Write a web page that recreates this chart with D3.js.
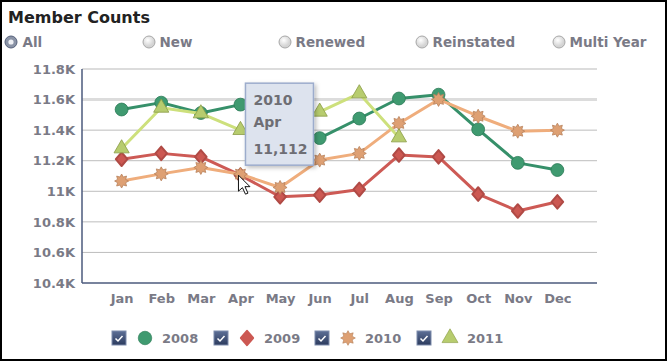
<!DOCTYPE html>
<html>
<head>
<meta charset="utf-8">
<script src="https://cdn.jsdelivr.net/npm/d3@7"></script>
<style>
  body { margin: 0; background: #fff; }
  svg { display: block; font-family: "DejaVu Sans", Verdana, sans-serif; }
</style>
</head>
<body>
<div id="chart"></div>
<script>
var svgWidth = 668;
var svgHeight = 362;

// chart data
var months = ["Jan", "Feb", "Mar", "Apr", "May", "Jun", "Jul", "Aug", "Sep", "Oct", "Nov", "Dec"];
var years = ["2008", "2009", "2010", "2011"];
var counts2008 = [11535, 11580, 11512, 11567, 11462, 11348, 11476, 11607, 11632, 11405, 11186, 11139];
var counts2009 = [11210, 11248, 11225, 11105, 10964, 10975, 11012, 11237, 11225, 10982, 10871, 10931];
var counts2010 = [11067, 11114, 11156, 11112, 11025, 11204, 11248, 11444, 11601, 11491, 11393, 11400];
var counts2011 = [11280, 11546, 11509, 11400, 11460, 11520, 11640, 11352];
var yTicks = [10400, 10600, 10800, 11000, 11200, 11400, 11600, 11800];
var filters = ["All", "New", "Renewed", "Reinstated", "Multi Year"];

var margin = { top: 69, right: 71, bottom: 79, left: 82 };
var width = svgWidth - margin.left - margin.right;
var height = svgHeight - margin.top - margin.bottom;

var svg = d3.select("#chart")
  .append("svg")
  .attr("width", svgWidth)
  .attr("height", svgHeight);

var defs = svg.append("defs");
var radioGrad = defs.append("radialGradient").attr("id", "radioGrad").attr("cx", "40%").attr("cy", "35%");
radioGrad.append("stop").attr("offset", "0%").attr("stop-color", "#ffffff");
radioGrad.append("stop").attr("offset", "100%").attr("stop-color", "#d4d4d4");
var boxGrad = defs.append("linearGradient").attr("id", "boxGrad").attr("x1", 0).attr("y1", 0).attr("x2", 0).attr("y2", 1);
boxGrad.append("stop").attr("offset", "0%").attr("stop-color", "#5d6f96");
boxGrad.append("stop").attr("offset", "100%").attr("stop-color", "#2c3b5e");
var shadow = defs.append("filter").attr("id", "shadow").attr("x", "-20%").attr("y", "-20%").attr("width", "150%").attr("height", "150%");
shadow.append("feDropShadow").attr("dx", 2).attr("dy", 2).attr("stdDeviation", 2).attr("flood-color", "#000").attr("flood-opacity", 0.25);

// title and filter radios
svg.append("text")
  .attr("x", 8).attr("y", 23)
  .attr("font-size", "16px").attr("font-weight", "bold")
  .attr("fill", "#222")
  .text("Member Counts");

var radioX = [11, 149, 285, 422, 559];
var radios = svg.selectAll(".radio")
  .data(filters)
  .enter()
  .append("g")
  .attr("class", "radio")
  .attr("transform", (d, i) => `translate(${radioX[i]}, 42)`);

radios.append("circle")
  .attr("r", 6)
  .attr("fill", (d, i) => i === 0 ? "#8a93a6" : "url(#radioGrad)")
  .attr("stroke", (d, i) => i === 0 ? "#55607a" : "#a8a8a8")
  .attr("stroke-width", 1);

radios.filter((d, i) => i === 0).append("circle")
  .attr("r", 2.6)
  .attr("fill", "#eef0f4");

radios.append("text")
  .attr("x", (d, i) => i === 0 ? 11.5 : 10.5).attr("y", 5)
  .attr("font-size", "13.5px").attr("font-weight", "bold")
  .attr("fill", "#7a7a86")
  .text(d => d);

var chartGroup = svg.append("g")
  .attr("transform", `translate(${margin.left}, ${margin.top})`);

// scales
var xScale = d3.scalePoint()
  .domain(months)
  .range([0, width])
  .padding(1);

var yScale = d3.scaleLinear()
  .domain([10400, 11800])
  .range([height, 0]);

// gridlines
chartGroup.selectAll(".grid")
  .data(yTicks.slice(1))
  .enter()
  .append("line")
  .attr("x1", 0).attr("x2", width)
  .attr("y1", d => yScale(d)).attr("y2", d => yScale(d))
  .attr("stroke", d => d === 11600 || d === 11800 ? "#dcdcdc" : "#bdbdbd")
  .attr("stroke-width", d => d === 11600 ? 3 : (d === 11800 ? 2 : 1));

// axes
var leftAxis = d3.axisLeft(yScale)
  .tickValues(yTicks)
  .tickSize(0)
  .tickPadding(7)
  .tickFormat(d => d3.format(".3~s")(d).replace("k", "K"));

var bottomAxis = d3.axisBottom(xScale)
  .tickSize(0)
  .tickPadding(11);

var yAxisG = chartGroup.append("g").call(leftAxis);
var xAxisG = chartGroup.append("g")
  .attr("transform", `translate(0, ${height})`)
  .call(bottomAxis);

[yAxisG, xAxisG].forEach(g => {
  g.select(".domain").attr("stroke", "#4b5a7c").attr("stroke-width", 1.5);
  g.selectAll("text")
    .attr("font-family", "DejaVu Sans, Verdana, sans-serif")
    .attr("font-size", "13px")
    .attr("font-weight", "bold")
    .attr("fill", "#7a7a86");
});
xAxisG.select(".domain").attr("d", `M0,0H${width}`);
yAxisG.select(".domain").attr("d", `M0,${height}V0`);

// series
function starPath(size) {
  var pts = [];
  for (var k = 0; k < 16; k++) {
    var r = k % 2 === 0 ? size : size * 0.62;
    var a = k * Math.PI / 8 - Math.PI / 2;
    pts.push([r * Math.cos(a), r * Math.sin(a)]);
  }
  return "M" + pts.map(p => p[0].toFixed(2) + "," + p[1].toFixed(2)).join("L") + "Z";
}

function diamondPath(w, h) {
  return `M0,${-h}Q${w * 0.15},${-h * 0.15} ${w},0Q${w * 0.15},${h * 0.15} 0,${h}` +
    `Q${-w * 0.15},${h * 0.15} ${-w},0Q${-w * 0.15},${-h * 0.15} 0,${-h}Z`;
}

function roundDiamond(w, h) {
  return `M0,${-h}L${w},0L0,${h}L${-w},0Z`;
}

var series = [
  { year: "2008", values: counts2008, line: "#36906a", fill: "#3f9a70", stroke: "#2a7a55", shape: d3.symbol().type(d3.symbolCircle).size(130)() },
  { year: "2009", values: counts2009, line: "#cd5a55", fill: "#cc5852", stroke: "#b04a45", shape: roundDiamond(5.8, 6.8) },
  { year: "2010", values: counts2010, line: "#efad7c", fill: "#dea073", stroke: "#b8825c", shape: starPath(7) },
  { year: "2011", values: counts2011, line: "#cde07c", fill: "#b7cc6e", stroke: "#8a9c45", shape: d3.symbol().type(d3.symbolTriangle).size(100)() }
];

var line = d3.line()
  .x((d, i) => xScale(months[i]))
  .y(d => yScale(d));

series.forEach(s => {
  var g = chartGroup.append("g");
  g.append("path")
    .datum(s.values)
    .attr("d", line)
    .attr("fill", "none")
    .attr("stroke", s.line)
    .attr("stroke-width", 3)
    .attr("stroke-linejoin", "round");
  g.selectAll("path.marker")
    .data(s.values)
    .enter()
    .append("path")
    .attr("class", "marker")
    .attr("d", s.shape)
    .attr("transform", (d, i) => `translate(${xScale(months[i])}, ${yScale(d)})`)
    .attr("fill", s.fill)
    .attr("stroke", s.stroke)
    .attr("stroke-width", s.year === "2009" ? 2 : 0.8)
    .attr("stroke-linejoin", "round");
});

// tooltip for 2010 Apr
var tipIndex = 3;
var tipX = xScale(months[tipIndex]) + 5;
var tipY = yScale(counts2010[tipIndex]) - 91;
var tip = chartGroup.append("g")
  .attr("transform", `translate(${tipX}, ${tipY})`);
tip.append("rect")
  .attr("width", 68).attr("height", 82)
  .attr("fill", "#dde3ee")
  .attr("stroke", "#9caccc")
  .attr("stroke-width", 1.5)
  .attr("filter", "url(#shadow)");
tip.selectAll("text")
  .data(["2010", months[tipIndex], d3.format(",")(counts2010[tipIndex])])
  .enter()
  .append("text")
  .attr("x", 8)
  .attr("y", (d, i) => [22, 44, 71][i])
  .attr("font-size", "14px")
  .attr("font-weight", "bold")
  .attr("fill", "#6e6e74")
  .text(d => d);

// mouse pointer
chartGroup.append("path")
  .attr("transform", `translate(${xScale(months[tipIndex]) - 2}, ${yScale(counts2010[tipIndex]) + 1})`)
  .attr("d", "M0,0L0,16L4,12.5L7,19L9.5,18L6.5,11.5L11.5,11.5Z")
  .attr("fill", "#fff")
  .attr("stroke", "#111")
  .attr("stroke-width", 1);

// legend
var legendX = [112, 214, 315, 417];
var legend = svg.selectAll(".legend")
  .data(series)
  .enter()
  .append("g")
  .attr("class", "legend")
  .attr("transform", (d, i) => `translate(${legendX[i]}, 338)`);

legend.append("rect")
  .attr("x", 0).attr("y", -7)
  .attr("width", 14).attr("height", 14)
  .attr("fill", "url(#boxGrad)")
  .attr("stroke", "#7d8bab");
legend.append("path")
  .attr("d", "M3.5,0.5L6,3L10.5,-2")
  .attr("fill", "none")
  .attr("stroke", "#fff")
  .attr("stroke-width", 1.5);
legend.append("path")
  .attr("d", d => d.shape)
  .attr("transform", "translate(33, 0) scale(1.05)")
  .attr("fill", d => d.fill)
  .attr("stroke", d => d.year === "2009" ? d.fill : d.stroke)
  .attr("stroke-width", d => d.year === "2009" ? 2 : 0.6)
  .attr("stroke-linejoin", "round");
legend.append("text")
  .attr("x", 50).attr("y", 5)
  .attr("font-size", "13px").attr("font-weight", "bold")
  .attr("fill", "#7a7a86")
  .text(d => d.year);

// frame
svg.append("rect")
  .attr("x", 1).attr("y", 1)
  .attr("width", svgWidth - 3).attr("height", svgHeight - 3)
  .attr("fill", "none")
  .attr("stroke", "#000")
  .attr("stroke-width", 2);
</script>
</body>
</html>
